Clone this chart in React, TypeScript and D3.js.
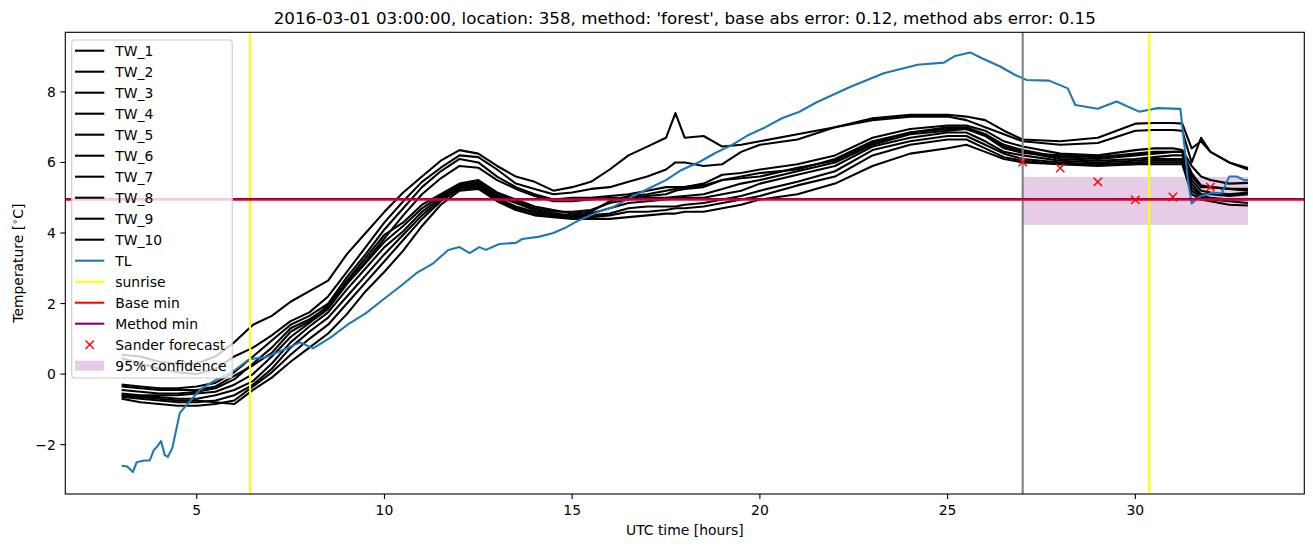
import React from "react";
import * as d3 from "d3";

const HOURS = [3, 3.5, 4, 4.5, 5, 5.5, 6, 6.5, 7, 7.5, 8, 8.5, 9, 9.5, 10, 10.5, 11, 11.5, 12, 12.5, 13, 13.5, 14, 14.5, 15, 15.5, 16, 16.5, 17, 17.5, 17.75, 18, 18.5, 19, 19.5, 20, 21, 22, 23, 24, 25, 25.5, 26, 26.5, 27, 28, 29, 30, 30.5, 31, 31.25, 31.5, 31.75, 32, 32.5, 33];

const TW_1 = [0.55, 0.5, 0.35, 0.3, 0.3, 0.5, 0.9, 1.4, 1.65, 2.05, 2.35, 2.65, 3.4, 4.0, 4.6, 5.15, 5.6, 6.05, 6.35, 6.25, 5.9, 5.6, 5.45, 5.2, 5.3, 5.45, 5.8, 6.2, 6.45, 6.7, 7.4, 6.7, 6.75, 6.45, 6.5, 6.6, 6.8, 7.0, 7.25, 7.35, 7.35, 7.3, 7.2, 6.9, 6.65, 6.6, 6.7, 7.1, 7.12, 7.12, 7.1, 6.4, 6.6, 6.3, 6.0, 5.84];
const TW_2 = [0.45, 0.3, 0.15, 0.05, 0.0, 0.15, 0.5, 0.75, 1.1, 1.5, 1.75, 2.2, 2.9, 3.6, 4.3, 4.9, 5.45, 5.85, 6.2, 6.15, 5.8, 5.4, 5.25, 5.1, 5.15, 5.25, 5.3, 5.45, 5.6, 5.8, 6.0, 6.0, 5.9, 5.95, 6.3, 6.5, 6.65, 7.0, 7.2, 7.3, 7.3, 7.2, 7.0, 6.8, 6.6, 6.5, 6.55, 6.9, 6.92, 6.92, 6.9, 6.0, 6.7, 6.3, 6.0, 5.8];
const TW_3 = [-0.3, -0.35, -0.4, -0.4, -0.35, -0.25, 0.05, 0.5, 0.95, 1.4, 1.65, 2.0, 2.75, 3.4, 4.1, 4.7, 5.3, 5.75, 6.1, 6.0, 5.6, 5.3, 5.1, 4.95, 5.0, 5.0, 5.05, 5.1, 5.2, 5.3, 5.3, 5.3, 5.4, 5.65, 5.7, 5.8, 5.95, 6.2, 6.7, 6.95, 7.05, 7.05, 6.9, 6.6, 6.45, 6.25, 6.2, 6.35, 6.4, 6.4, 6.35, 5.9, 5.6, 5.5, 5.4, 5.42];
const TW_4 = [-0.45, -0.5, -0.55, -0.55, -0.5, -0.4, -0.15, 0.3, 0.75, 1.3, 1.55, 1.9, 2.6, 3.2, 3.85, 4.5, 5.1, 5.55, 5.9, 5.85, 5.5, 5.25, 5.05, 4.9, 4.9, 4.95, 5.0, 5.0, 5.05, 5.1, 5.2, 5.25, 5.3, 5.5, 5.6, 5.7, 5.8, 6.1, 6.6, 6.85, 7.0, 7.0, 6.8, 6.5, 6.35, 6.15, 6.1, 6.2, 6.25, 6.3, 6.3, 5.6, 5.3, 5.3, 5.25, 5.2];
const TW_5 = [-0.55, -0.6, -0.6, -0.6, -0.55, -0.5, -0.3, 0.0, 0.5, 1.05, 1.45, 1.85, 2.55, 3.15, 3.75, 4.2, 4.7, 5.05, 5.35, 5.45, 5.1, 4.9, 4.7, 4.6, 4.6, 4.65, 4.85, 4.95, 5.0, 5.0, 5.03, 5.05, 5.1, 5.25, 5.4, 5.5, 5.75, 6.0, 6.5, 6.8, 6.9, 6.95, 6.8, 6.45, 6.3, 6.1, 6.05, 6.1, 6.15, 6.2, 6.2, 5.5, 5.2, 5.15, 5.1, 5.15];
const TW_6 = [-0.6, -0.65, -0.65, -0.7, -0.7, -0.6, -0.45, -0.2, 0.3, 0.9, 1.35, 1.75, 2.4, 3.0, 3.6, 4.05, 4.6, 5.0, 5.3, 5.4, 5.05, 4.85, 4.65, 4.55, 4.5, 4.55, 4.7, 4.85, 4.9, 4.95, 5.0, 5.0, 5.0, 5.1, 5.2, 5.4, 5.65, 5.9, 6.45, 6.7, 6.85, 6.85, 6.6, 6.3, 6.2, 6.05, 6.0, 6.05, 6.1, 6.1, 6.1, 5.4, 5.1, 5.1, 5.05, 5.1];
const TW_7 = [-0.65, -0.7, -0.75, -0.8, -0.8, -0.75, -0.6, -0.3, 0.15, 0.75, 1.2, 1.6, 2.2, 2.8, 3.4, 3.95, 4.5, 4.95, 5.3, 5.35, 5.0, 4.75, 4.6, 4.5, 4.45, 4.5, 4.55, 4.7, 4.75, 4.75, 4.75, 4.8, 4.85, 4.95, 5.05, 5.2, 5.45, 5.75, 6.35, 6.6, 6.75, 6.75, 6.5, 6.25, 6.1, 6.0, 5.95, 6.0, 6.05, 6.05, 6.05, 5.3, 5.05, 5.0, 4.95, 4.95];
const TW_8 = [-0.7, -0.8, -0.85, -0.9, -0.9, -0.85, -0.75, -0.35, 0.05, 0.55, 1.0, 1.4, 2.0, 2.6, 3.2, 3.8, 4.4, 4.9, 5.25, 5.3, 4.95, 4.7, 4.55, 4.5, 4.45, 4.45, 4.5, 4.6, 4.6, 4.65, 4.7, 4.7, 4.75, 4.85, 4.95, 5.05, 5.35, 5.6, 6.2, 6.5, 6.65, 6.65, 6.4, 6.15, 6.05, 5.95, 5.9, 5.95, 6.0, 6.0, 6.0, 5.2, 5.0, 4.95, 4.9, 4.85];
const TW_9 = [-0.6, -0.65, -0.7, -0.75, -0.75, -0.8, -0.85, -0.45, -0.1, 0.35, 0.75, 1.15, 1.7, 2.35, 2.9, 3.5, 4.2, 4.8, 5.2, 5.25, 4.9, 4.65, 4.5, 4.45, 4.4, 4.4, 4.4, 4.45, 4.5, 4.55, 4.55, 4.6, 4.6, 4.7, 4.8, 4.95, 5.1, 5.4, 5.9, 6.25, 6.4, 6.5, 6.3, 6.1, 6.0, 5.95, 5.95, 5.95, 5.95, 5.95, 5.95, 5.1, 4.95, 4.9, 4.8, 4.78];
const TW_10 = [-0.35, -0.4, -0.45, -0.45, -0.45, -0.35, -0.05, 0.25, 0.6, 1.2, 1.5, 1.95, 2.65, 3.3, 3.95, 4.3, 4.8, 5.1, 5.4, 5.5, 5.15, 4.95, 4.75, 4.65, 4.55, 4.6, 4.9, 5.05, 5.1, 5.2, 5.25, 5.3, 5.35, 5.5, 5.55, 5.6, 5.85, 6.05, 6.55, 6.85, 6.95, 6.95, 6.75, 6.4, 6.27, 6.2, 6.15, 6.25, 6.3, 6.3, 6.3, 5.7, 5.35, 5.3, 5.25, 5.25];

const TW_SERIES = [TW_1, TW_2, TW_3, TW_4, TW_5, TW_6, TW_7, TW_8, TW_9, TW_10];
const TW_NAMES = ["TW_1", "TW_2", "TW_3", "TW_4", "TW_5", "TW_6", "TW_7", "TW_8", "TW_9", "TW_10"];

const TL_HOURS = [3.0, 3.15, 3.3, 3.4, 3.6, 3.75, 3.86, 3.95, 4.05, 4.15, 4.23, 4.35, 4.45, 4.55, 4.75, 5.08, 5.5, 5.95, 6.4, 6.85, 7.4, 7.75, 8.1, 8.6, 9.07, 9.5, 9.95, 10.4, 10.85, 11.3, 11.7, 12.0, 12.27, 12.53, 12.7, 13.06, 13.5, 13.67, 14.1, 14.5, 14.8, 15.2, 15.7, 16.1, 16.6, 17.05, 17.5, 17.9, 18.4, 18.8, 19.26, 19.7, 20.15, 20.6, 21.04, 21.5, 22.4, 23.3, 24.2, 24.9, 25.2, 25.6, 25.9, 26.4, 26.8, 27.1, 27.7, 28.2, 28.4, 29.0, 29.5, 30.1, 30.6, 31.2, 31.3, 31.4, 31.5, 31.7, 32.0, 32.3, 32.5, 32.7, 32.9, 33.0];
const TL_VALUES = [-2.6, -2.62, -2.78, -2.5, -2.45, -2.45, -2.15, -2.05, -1.9, -2.3, -2.35, -2.1, -1.6, -1.1, -0.85, -0.45, -0.17, 0.06, 0.42, 0.48, 0.73, 0.9, 0.73, 1.06, 1.44, 1.72, 2.1, 2.47, 2.86, 3.14, 3.52, 3.6, 3.43, 3.6, 3.52, 3.69, 3.72, 3.83, 3.89, 4.0, 4.14, 4.37, 4.6, 4.74, 5.03, 5.27, 5.5, 5.78, 6.02, 6.26, 6.5, 6.78, 7.0, 7.26, 7.43, 7.7, 8.14, 8.53, 8.77, 8.83, 9.02, 9.12, 8.96, 8.72, 8.48, 8.34, 8.32, 8.1, 7.63, 7.52, 7.73, 7.44, 7.54, 7.52, 6.55, 5.5, 4.84, 5.03, 5.13, 5.13, 5.6, 5.6, 5.5, 5.5];

const SUNRISE = [6.42, 30.37];
const NOW_HOUR = 27.0;
const BASE_MIN = 4.945;
const METHOD_MIN = 4.975;
const SANDER_HOURS = [27, 28, 29, 30, 31, 32];
const SANDER_VALUES = [6.01, 5.84, 5.45, 4.94, 5.02, 5.3];
const CONF_HOURS = [27, 33];
const CONF_LOW = 4.23;
const CONF_HIGH = 5.59;

const X_TICKS = [5, 10, 15, 20, 25, 30];
const Y_TICKS = [-2, 0, 2, 4, 6, 8];

const TITLE = "2016-03-01 03:00:00, location: 358, method: 'forest', base abs error: 0.12, method abs error: 0.15";

const W = 1313, H = 547;
const L = 65.3, R = 1304.3, T = 32.3, B = 494;
const FONT = "DejaVu Sans";
const FS = 13.9;

export default function App() {
  const x = d3.scaleLinear().domain([1.5, 34.5]).range([L, R]);
  const y = d3.scaleLinear().domain([-3.4, 9.69]).range([B, T]);
  const line = d3.line<[number, number]>().x(d => x(d[0])).y(d => y(d[1]));
  const fmt = (v: number) => (v < 0 ? "\u2212" + Math.abs(v) : String(v));

  const legendItems: { label: string; kind: string; color: string }[] = [
    ...TW_NAMES.map(n => ({ label: n, kind: "line", color: "#000000" })),
    { label: "TL", kind: "line", color: "#1f77b4" },
    { label: "sunrise", kind: "line", color: "#ffff00" },
    { label: "Base min", kind: "line", color: "#ff0000" },
    { label: "Method min", kind: "line", color: "#800080" },
    { label: "Sander forecast", kind: "x", color: "#ff0000" },
    { label: "95% confidence", kind: "patch", color: "#800080" },
  ];

  const xMark = (cx: number, cy: number, s: number, key: string) => (
    <g key={key} stroke="#ff0000" strokeWidth={1.4}>
      <line x1={cx - s} y1={cy - s} x2={cx + s} y2={cy + s} />
      <line x1={cx - s} y1={cy + s} x2={cx + s} y2={cy - s} />
    </g>
  );

  return (
    <svg width={W} height={H} style={{ position: "absolute", left: 0, top: 0, background: "#fff" }} fontFamily={FONT}>
      <defs>
        <clipPath id="plot">
          <rect x={L} y={T} width={R - L} height={B - T} />
        </clipPath>
      </defs>
      <rect x={0} y={0} width={W} height={H} fill="#fff" />
      <g clipPath="url(#plot)">
        <rect x={x(CONF_HOURS[0])} y={y(CONF_HIGH)} width={x(CONF_HOURS[1]) - x(CONF_HOURS[0])} height={y(CONF_LOW) - y(CONF_HIGH)} fill="#800080" fillOpacity={0.2} />
        {TW_SERIES.map((s, i) => (
          <path key={i} d={line(HOURS.map((h, j) => [h, s[j]] as [number, number])) || ""} fill="none" stroke="#000" strokeWidth={2.08} strokeLinejoin="round" />
        ))}
        <path d={line(TL_HOURS.map((h, j) => [h, TL_VALUES[j]] as [number, number])) || ""} fill="none" stroke="#1f77b4" strokeWidth={2.08} strokeLinejoin="round" />
        {SUNRISE.map((h, i) => (
          <line key={i} x1={x(h)} x2={x(h)} y1={T} y2={B} stroke="#ffff00" strokeWidth={2.08} />
        ))}
        <line x1={x(NOW_HOUR)} x2={x(NOW_HOUR)} y1={T} y2={B} stroke="#808080" strokeWidth={2.08} />
        <line x1={L} x2={R} y1={y(BASE_MIN)} y2={y(BASE_MIN)} stroke="#ff0000" strokeWidth={2.08} />
        <line x1={L} x2={R} y1={y(METHOD_MIN)} y2={y(METHOD_MIN)} stroke="#800080" strokeWidth={1.2} />
        {SANDER_HOURS.map((h, i) => xMark(x(h), y(SANDER_VALUES[i]), 4.2, "s" + i))}
      </g>
      {/* axes frame */}
      <rect x={L} y={T} width={R - L} height={B - T} fill="none" stroke="#000" strokeWidth={1.1} />
      {X_TICKS.map(t => (
        <g key={t}>
          <line x1={x(t)} x2={x(t)} y1={B} y2={B + 4.9} stroke="#000" strokeWidth={1.1} />
          <text x={x(t)} y={B + 20.5} fontSize={FS} textAnchor="middle" fill="#000">{fmt(t)}</text>
        </g>
      ))}
      {Y_TICKS.map(t => (
        <g key={t}>
          <line x1={L - 4.9} x2={L} y1={y(t)} y2={y(t)} stroke="#000" strokeWidth={1.1} />
          <text x={L - 9.5} y={y(t) + 5} fontSize={FS} textAnchor="end" fill="#000">{fmt(t)}</text>
        </g>
      ))}
      <text x={(L + R) / 2} y={535} fontSize={FS} textAnchor="middle" fill="#000">UTC time [hours]</text>
      <text transform={`translate(23,${(T + B) / 2}) rotate(-90)`} fontSize={FS} textAnchor="middle" fill="#000">
        Temperature [<tspan fontSize={9.7} dy={-5.5}>{"\u2218"}</tspan><tspan dy={5.5}>C]</tspan>
      </text>
      <text x={(L + R) / 2} y={24} fontSize={16.7} textAnchor="middle" fill="#000">{TITLE}</text>
      {/* legend */}
      <g>
        <rect x={71.7} y={40} width={160.5} height={338} rx={3} ry={3} fill="#fff" fillOpacity={0.8} stroke="#cccccc" strokeWidth={1.1} />
        {legendItems.map((it, i) => {
          const cy = 50.7 + i * 21;
          return (
            <g key={it.label}>
              {it.kind === "line" && <line x1={75} x2={104.3} y1={cy} y2={cy} stroke={it.color} strokeWidth={2.08} />}
              {it.kind === "x" && xMark(89.7, cy, 4.2, "lx")}
              {it.kind === "patch" && <rect x={75} y={cy - 5} width={29.3} height={10} fill={it.color} fillOpacity={0.2} />}
              <text x={115.3} y={cy + 5} fontSize={FS} fill="#000">{it.label}</text>
            </g>
          );
        })}
      </g>
    </svg>
  );
}
